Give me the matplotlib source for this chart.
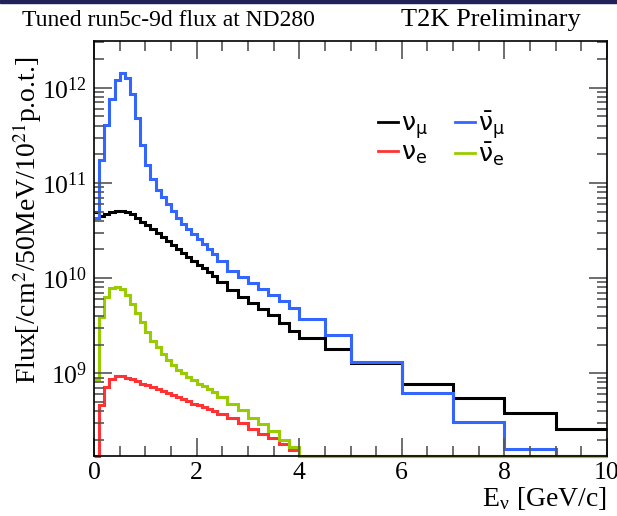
import matplotlib
matplotlib.use("Agg")
import matplotlib.pyplot as plt
import numpy as np
from matplotlib.ticker import FixedLocator, LogLocator, NullFormatter

plt.rcParams['font.family'] = ['Liberation Serif', 'DejaVu Serif']
plt.rcParams['mathtext.fontset'] = 'stix'

# bin edges (GeV), 0.1 GeV bins up to 2.4, 0.2 GeV up to 4, then wider
edges = [0.0, 0.1, 0.2, 0.3, 0.4, 0.5, 0.6, 0.7, 0.8, 0.9, 1.0, 1.1, 1.2,
         1.3, 1.4, 1.5, 1.6, 1.7, 1.8, 1.9, 2.0, 2.1, 2.2, 2.3, 2.4,
         2.6, 2.8, 3.0, 3.2, 3.4, 3.6, 3.8, 4.0,
         4.5, 5.0, 6.0, 7.0, 8.0, 9.0, 10.0]

numu = [5.0e10, 4.5e10, 4.7e10, 5.0e10, 5.1e10, 5.1e10, 5.0e10, 4.7e10,
        4.3e10, 3.9e10, 3.6e10, 3.3e10, 3.0e10, 2.7e10, 2.45e10, 2.2e10,
        2.0e10, 1.83e10, 1.66e10, 1.51e10, 1.37e10, 1.27e10, 1.15e10, 1.05e10,
        9.1e9, 7.5e9, 6.3e9, 5.5e9, 4.7e9, 4.1e9, 3.4e9, 2.8e9,
        2.33e9, 1.79e9, 1.27e9, 7.8e8, 5.5e8, 3.8e8, 2.6e8]

numubar = [4.3e10, 1.73e11, 4.1e11, 7.6e11, 1.2e12, 1.44e12, 1.26e12, 8.7e11,
           4.8e11, 2.5e11, 1.55e11, 1.09e11, 8.4e10, 7.1e10, 6.0e10, 5.1e10,
           4.3e10, 3.7e10, 3.3e10, 2.9e10, 2.6e10, 2.3e10, 2.0e10, 1.8e10,
           1.5e10, 1.2e10, 1.02e10, 8.9e9, 7.6e9, 6.6e9, 5.8e9, 4.8e9,
           3.7e9, 2.5e9, 1.31e9, 6.2e8, 3.1e8, 1.6e8, 0.0]

nue = [0.0, 4.6e8, 7.2e8, 8.8e8, 9.4e8, 9.4e8, 9.0e8, 8.6e8,
       8.2e8, 7.8e8, 7.5e8, 7.1e8, 6.8e8, 6.5e8, 6.2e8, 5.9e8,
       5.6e8, 5.3e8, 5.1e8, 4.8e8, 4.6e8, 4.4e8, 4.2e8, 4.0e8,
       3.7e8, 3.4e8, 3.0e8, 2.6e8, 2.3e8, 2.1e8, 1.8e8, 1.55e8,
       0.0, 0.0, 0.0, 0.0, 0.0, 0.0, 0.0]

nuebar = [8.7e8, 3.9e9, 6.3e9, 7.8e9, 8.1e9, 7.6e9, 6.6e9, 5.4e9,
          4.3e9, 3.46e9, 2.7e9, 2.2e9, 1.89e9, 1.61e9, 1.39e9, 1.23e9,
          1.09e9, 1.0e9, 9.1e8, 8.4e8, 7.8e8, 7.3e8, 6.8e8, 6.3e8,
          5.6e8, 4.8e8, 4.1e8, 3.4e8, 2.9e8, 2.45e8, 2.0e8, 1.66e8,
          0.0, 0.0, 0.0, 0.0, 0.0, 0.0, 0.0]

ymin, ymax = 1.35e8, 3.1e12

fig = plt.figure(figsize=(6.17, 5.16), dpi=100)
ax = fig.add_axes([94 / 617, 1 - 456 / 516, 513 / 617, 415 / 516])

series = [
    (numu, 'black', r'$\mathregular{ν_{μ}}$'),
    (numubar, '#3366ff', r'$\mathregular{\bar{ν}_{μ}}$'),
    (nue, '#ff3333', r'$\mathregular{ν_{e}}$'),
    (nuebar, '#99cc00', r'$\mathregular{\bar{ν}_{e}}$'),
]
handles = []
for vals, col, lab in series:
    v = np.maximum(np.array(vals), ymin)
    ax.stairs(v, edges, baseline=None, color=col, lw=2.2, clip_on=False)
    h, = ax.plot([], [], color=col, lw=2.0, label=lab)
    handles.append(h)

ax.set_yscale('log')
ax.set_xlim(0, 10)
ax.set_ylim(ymin, ymax)

ax.xaxis.set_major_locator(FixedLocator([0, 2, 4, 6, 8, 10]))
ax.xaxis.set_minor_locator(FixedLocator(np.arange(0, 10.01, 0.5)))
ax.yaxis.set_minor_locator(LogLocator(base=10, subs=np.arange(2, 10), numticks=20))
ax.yaxis.set_minor_formatter(NullFormatter())
ax.set_yticks([1e9, 1e10, 1e11, 1e12])
ax.set_yticklabels([r'$\mathregular{10^{9}}$', r'$\mathregular{10^{10}}$',
                    r'$\mathregular{10^{11}}$', r'$\mathregular{10^{12}}$'])
ax.set_xticklabels(['0', '2', '4', '6', '8', '10'])

ax.tick_params(which='both', direction='in', top=True, right=True,
               labelsize=18.5, color='#555555')
ax.tick_params(which='major', length=13, width=1.2)
ax.tick_params(which='minor', length=7, width=1.2)
ax.tick_params(axis='x', pad=4)
ax.tick_params(axis='y', pad=5)
for s in ax.spines.values():
    s.set_linewidth(1.2)

# columns fill first: nu_mu, nu_e | nubar_mu, nubar_e
ax.legend(handles=[handles[0], handles[2], handles[1], handles[3]],
          ncol=2, frameon=False, loc='upper left',
          bbox_to_anchor=(0.51, 0.89), handlelength=0.8,
          handletextpad=0.1, columnspacing=1.1, labelspacing=0.0,
          prop={'family': 'DejaVu Sans', 'size': 18})

fig.text(22 / 617, 1 - 20 / 516, 'Tuned run5c-9d flux at ND280', fontsize=17,
         va='center', ha='left')
fig.text(581 / 617, 1 - 20 / 516, 'T2K Preliminary', fontsize=19,
         va='center', ha='right')
fig.text(27 / 617, 1 - 220 / 516,
         r'Flux[/cm$^{2}$/50MeV/10$^{21}$p.o.t.]', rotation=90,
         fontsize=20, va='center', ha='center')
fig.text(607 / 617, 1 - 498 / 516, r'E$_{\mathregular{ν}}$ [GeV/c]',
         fontsize=20, va='center', ha='right')

fig.patches.append(plt.Rectangle((0, 1 - 3 / 516), 1, 3 / 516,
                                 transform=fig.transFigure,
                                 color='#22225a', zorder=0))

fig.savefig('out.png', dpi=100)
